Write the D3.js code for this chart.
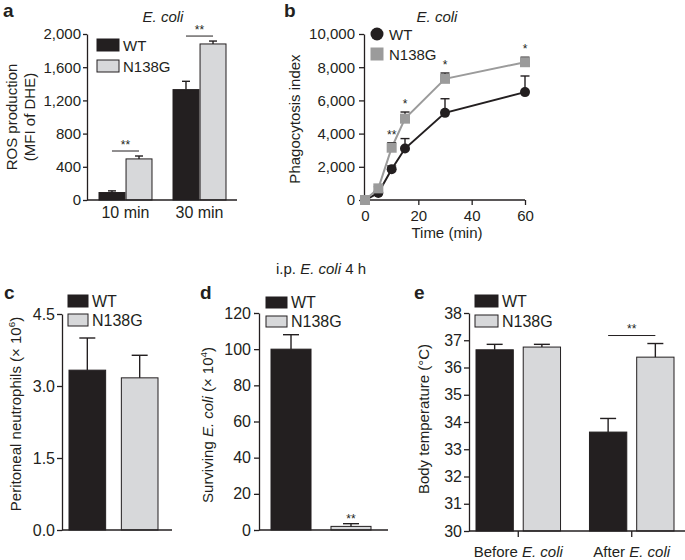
<!DOCTYPE html>
<html><head><meta charset="utf-8">
<script src="https://cdn.jsdelivr.net/npm/d3@7"></script>
<style>
body{margin:0;background:#fff;}
svg text{font-family:"Liberation Sans",Arial,Helvetica,sans-serif;fill:#231f20;}
</style></head><body><script>
// ---------- DATA ----------
const genotypes = ["WT", "N138G"];

// a: ROS production
const rosGroups = ["10 min", "30 min"];
const rosWT = [90, 1330];
const rosWTErr = [20, 100];
const rosN138G = [495, 1880];
const rosN138GErr = [35, 35];
const rosSig = ["**", "**"];
const rosTicks = [0, 400, 800, 1200, 1600, 2000];

// b: phagocytosis index
const phTimes = [0, 5, 10, 15, 30, 60];
const phWT = [0, 420, 1850, 3100, 5250, 6500];
const phWTErr = [0, 100, 200, 600, 850, 970];
const phN138G = [0, 700, 3150, 4900, 7300, 8300];
const phN138GErr = [0, 100, 300, 400, 350, 300];
const phSig = ["", "", "**", "*", "*", "*"];
const phYTicks = [0, 2000, 4000, 6000, 8000, 10000];
const phXTicks = [0, 20, 40, 60];

// c: peritoneal neutrophils
const neutVals = [3.33, 3.17];
const neutErr = [0.67, 0.47];
const neutTicks = [0, 1.5, 3.0, 4.5];

// d: surviving E. coli
const survVals = [100, 2];
const survErr = [8, 1.5];
const survSig = ["", "**"];
const survTicks = [0, 20, 40, 60, 80, 100, 120];

// e: body temperature
const tempGroups = ["Before", "After"];
const tempWT = [36.65, 33.63];
const tempWTErr = [0.2, 0.5];
const tempN138G = [36.75, 36.38];
const tempN138GErr = [0.1, 0.5];
const tempSig = ["", "**"];
const tempTicks = [30, 31, 32, 33, 34, 35, 36, 37, 38];

// ---------- DRAW ----------
const ink = "#231f20", light = "#d7d8da", grayMark = "#9b9b9b";
const FONT = '"Liberation Sans",Arial,Helvetica,sans-serif';
const svg = d3.select("body").append("svg").attr("width", 685).attr("height", 560);

function styleAxis(g, fs) {
  g.attr("font-size", fs).attr("font-family", FONT);
  g.selectAll("path,line").attr("stroke", ink).attr("stroke-width", 1.3);
  g.selectAll("text").attr("fill", ink);
}
function leftAxis(x, scale, ticks, fmt, fs, size, pad) {
  const g = svg.append("g").attr("transform", `translate(${x},0)`)
    .call(d3.axisLeft(scale).tickValues(ticks).tickFormat(fmt).tickSize(size).tickPadding(pad).tickSizeOuter(0));
  styleAxis(g, fs);
  return g;
}
function hline(x1, x2, y, w) {
  svg.append("line").attr("x1", x1).attr("x2", x2).attr("y1", y).attr("y2", y)
    .attr("stroke", ink).attr("stroke-width", w || 1.3);
}
function errBar(cx, yTop, yVal, cap, color) {
  svg.append("line").attr("x1", cx).attr("x2", cx).attr("y1", yVal).attr("y2", yTop)
    .attr("stroke", color || ink).attr("stroke-width", 1.4);
  svg.append("line").attr("x1", cx - cap / 2).attr("x2", cx + cap / 2).attr("y1", yTop).attr("y2", yTop)
    .attr("stroke", color || ink).attr("stroke-width", 1.4);
}
function txt(x, y, s, fs, anchor, opts) {
  const t = svg.append("text").attr("x", x).attr("y", y).style("font-size", fs + "px")
    .attr("text-anchor", anchor || "start");
  if (opts && opts.bold) t.style("font-weight", "bold");
  if (opts && opts.italic) t.style("font-style", "italic");
  t.text(s);
  return t;
}
function vtitle(cx, cy, parts, fs) {
  const t = svg.append("text").attr("transform", `translate(${cx},${cy}) rotate(-90)`)
    .attr("text-anchor", "middle").style("font-size", fs + "px");
  parts.forEach(p => {
    const ts = t.append("tspan").text(p.t);
    if (p.i) ts.style("font-style", "italic");
    if (p.sup) ts.attr("dy", -6).style("font-size", (fs * 0.65) + "px");
    if (p.after) ts.attr("dy", 6);
  });
  return t;
}
function boxLegend(x, y0, dy, w, h, fs) {
  genotypes.forEach((name, i) => {
    svg.append("rect").attr("x", x).attr("y", y0 + i * dy).attr("width", w).attr("height", h)
      .attr("fill", i ? light : ink).attr("stroke", ink).attr("stroke-width", 1);
    txt(x + w + 4, y0 + i * dy + h, name, fs);
  });
}
function stars(x, y, s, fs) {
  txt(x, y, s, fs || 12, "middle");
}

// ===== Panel a =====
{
  const L = 87, R = 237, T = 34, B = 200;
  const y = d3.scaleLinear().domain([0, 2000]).range([B, T]);
  const x = d3.scaleBand().domain(rosGroups).range([99, 226]).paddingInner(0.284);
  const xs = d3.scaleBand().domain(genotypes).range([0, x.bandwidth()]).paddingInner(0.04);
  const series = [[rosWT, rosWTErr], [rosN138G, rosN138GErr]];
  rosGroups.forEach((g, gi) => {
    series.forEach(([vals, errs], si) => {
      const x0 = x(g) + xs(genotypes[si]);
      svg.append("rect").attr("x", x0).attr("y", y(vals[gi])).attr("width", xs.bandwidth())
        .attr("height", y(0) - y(vals[gi])).attr("fill", si ? light : ink).attr("stroke", ink).attr("stroke-width", 1);
      errBar(x0 + xs.bandwidth() / 2, y(vals[gi] + errs[gi]), y(vals[gi]), 8);
    });
    const c1 = x(g) + xs("WT") + xs.bandwidth() / 2, c2 = x(g) + xs("N138G") + xs.bandwidth() / 2;
    const top = Math.min(y(rosWT[gi] + rosWTErr[gi]), y(rosN138G[gi] + rosN138GErr[gi]));
    const ly = top - 5;
    hline(c1, c2, ly, 1);
    stars((c1 + c2) / 2, ly - 2, rosSig[gi]);
    txt(x(g) + x.bandwidth() / 2, B + 18, g, 16, "middle");
  });
  leftAxis(L, y, rosTicks, d3.format(","), 15, 4, 2);
  hline(L, R, B);
  boxLegend(97, 39, 21, 22, 12, 15);
  txt(163, 22, "E. coli", 15, "middle", { italic: true });
  txt(3, 17, "a", 19, "start", { bold: true });
  vtitle(17, 117, [{ t: "ROS production" }], 15);
  vtitle(35, 117, [{ t: "(MFI of DHE)" }], 15);
}

// ===== Panel b =====
{
  const L = 364, R = 525, T = 34, B = 200;
  const x = d3.scaleLinear().domain([0, 60]).range([365, 525]);
  const y = d3.scaleLinear().domain([0, 10000]).range([B, T]);
  leftAxis(L, y, phYTicks, d3.format(","), 15, 5, 4);
  const gx = svg.append("g").attr("transform", `translate(0,${B})`)
    .call(d3.axisBottom(x).tickValues(phXTicks).tickSize(5).tickPadding(5).tickSizeOuter(0));
  styleAxis(gx, 15);
  gx.select(".domain").remove();
  hline(L, R, B);

  const line = d3.line().x((d, i) => x(phTimes[i])).y(d => y(d));
  // WT
  svg.append("path").datum(phWT).attr("d", line).attr("fill", "none").attr("stroke", ink).attr("stroke-width", 2);
  phWT.forEach((v, i) => { if (phWTErr[i] > 0) errBar(x(phTimes[i]), y(v + phWTErr[i]), y(v), 9); });
  phWT.forEach((v, i) => svg.append("circle").attr("cx", x(phTimes[i])).attr("cy", y(v)).attr("r", 5).attr("fill", ink));
  // N138G
  svg.append("path").datum(phN138G).attr("d", line).attr("fill", "none").attr("stroke", grayMark).attr("stroke-width", 2);
  phN138G.forEach((v, i) => { if (phN138GErr[i] > 0) errBar(x(phTimes[i]), y(v + phN138GErr[i]), y(v), 9, ink); });
  phN138G.forEach((v, i) => svg.append("rect").attr("x", x(phTimes[i]) - 5).attr("y", y(v) - 5)
    .attr("width", 10).attr("height", 10).attr("fill", grayMark));
  phN138G.forEach((v, i) => { if (phSig[i]) stars(x(phTimes[i]), y(v + phN138GErr[i]) - 4, phSig[i]); });

  // legend
  svg.append("circle").attr("cx", 377).attr("cy", 34).attr("r", 6.5).attr("fill", ink);
  txt(389, 40, "WT", 15);
  svg.append("rect").attr("x", 370.5).attr("y", 47.5).attr("width", 13).attr("height", 13).attr("fill", grayMark);
  txt(389, 60, "N138G", 15);

  txt(437, 22, "E. coli", 15, "middle", { italic: true });
  txt(284, 17, "b", 19, "start", { bold: true });
  vtitle(300, 119, [{ t: "Phagocytosis index" }], 15);
  txt(447, 238, "Time (min)", 15, "middle");
}

// ===== Panel c =====
{
  const L = 62, R = 172, T = 314, B = 530;
  const y = d3.scaleLinear().domain([0, 4.5]).range([B, T]);
  const x = d3.scaleBand().domain(genotypes).range([69, 158]).paddingInner(0.3);
  genotypes.forEach((g, i) => {
    svg.append("rect").attr("x", x(g)).attr("y", y(neutVals[i])).attr("width", x.bandwidth())
      .attr("height", y(0) - y(neutVals[i])).attr("fill", i ? light : ink).attr("stroke", ink).attr("stroke-width", 1);
    errBar(x(g) + x.bandwidth() / 2, y(neutVals[i] + neutErr[i]), y(neutVals[i]), 16);
  });
  leftAxis(L, y, neutTicks, d3.format(".1f"), 16, 5, 2);
  hline(L, R, B);
  boxLegend(68, 295, 19, 20, 12, 16);
  txt(4, 299, "c", 19, "start", { bold: true });
  vtitle(21, 414, [{ t: "Peritoneal neutrophils (× 10" }, { t: "6", sup: true }, { t: ")", after: true }], 15);
}

// ===== Panel d =====
{
  const L = 259, R = 388, T = 313, B = 530;
  const y = d3.scaleLinear().domain([0, 120]).range([B, T]);
  const x = d3.scaleBand().domain(genotypes).range([271, 371]).paddingInner(0.333);
  genotypes.forEach((g, i) => {
    svg.append("rect").attr("x", x(g)).attr("y", y(survVals[i])).attr("width", x.bandwidth())
      .attr("height", y(0) - y(survVals[i])).attr("fill", i ? light : ink).attr("stroke", ink).attr("stroke-width", 1);
    errBar(x(g) + x.bandwidth() / 2, y(survVals[i] + survErr[i]), y(survVals[i]), 16);
    if (survSig[i]) stars(x(g) + x.bandwidth() / 2, y(survVals[i] + survErr[i]) - 1, survSig[i]);
  });
  leftAxis(L, y, survTicks, d3.format("d"), 16, 5, 3);
  hline(L, R, B);
  boxLegend(266, 297, 19, 21, 11, 16);
  txt(200, 299, "d", 19, "start", { bold: true });
  const t = txt(321, 274, "", 15, "middle");
  t.append("tspan").text("i.p. ");
  t.append("tspan").text("E. coli").style("font-style", "italic");
  t.append("tspan").text(" 4 h");
  vtitle(213, 425, [{ t: "Surviving " }, { t: "E. coli", i: true }, { t: " (× 10" }, { t: "4", sup: true }, { t: ")", after: true }], 15);
}

// ===== Panel e =====
{
  const L = 469, R = 685, T = 313, B = 531;
  const y = d3.scaleLinear().domain([30, 38]).range([B, T]);
  const x = d3.scaleBand().domain(tempGroups).range([476, 674]).paddingInner(0.255);
  const xs = d3.scaleBand().domain(genotypes).range([0, x.bandwidth()]).paddingInner(0.21);
  const series = [[tempWT, tempWTErr], [tempN138G, tempN138GErr]];
  tempGroups.forEach((g, gi) => {
    series.forEach(([vals, errs], si) => {
      const x0 = x(g) + xs(genotypes[si]);
      svg.append("rect").attr("x", x0).attr("y", y(vals[gi])).attr("width", xs.bandwidth())
        .attr("height", y(30) - y(vals[gi])).attr("fill", si ? light : ink).attr("stroke", ink).attr("stroke-width", 1);
      errBar(x0 + xs.bandwidth() / 2, y(vals[gi] + errs[gi]), y(vals[gi]), 16);
    });
    if (tempSig[gi]) {
      const c1 = x(g) + xs("WT") + xs.bandwidth() / 2, c2 = x(g) + xs("N138G") + xs.bandwidth() / 2;
      const top = Math.min(y(tempWT[gi] + tempWTErr[gi]), y(tempN138G[gi] + tempN138GErr[gi]));
      const ly = top - 8;
      hline(c1, c2, ly, 1);
      stars((c1 + c2) / 2, ly - 3, tempSig[gi]);
    }
    const cx = x(g) + x.bandwidth() / 2;
    svg.append("line").attr("x1", cx).attr("x2", cx).attr("y1", B).attr("y2", B + 6).attr("stroke", ink).attr("stroke-width", 1.3);
    const t = txt(cx, B + 26, "", 15, "middle");
    t.append("tspan").text(g + " ");
    t.append("tspan").text("E. coli").style("font-style", "italic");
  });
  leftAxis(L, y, tempTicks, d3.format("d"), 16, 5, 2);
  hline(L, R, B);
  boxLegend(475, 295, 20, 23, 12, 16);
  txt(414, 299, "e", 19, "start", { bold: true });
  vtitle(429, 419, [{ t: "Body temperature (°C)" }], 15);
}
</script></body></html>
